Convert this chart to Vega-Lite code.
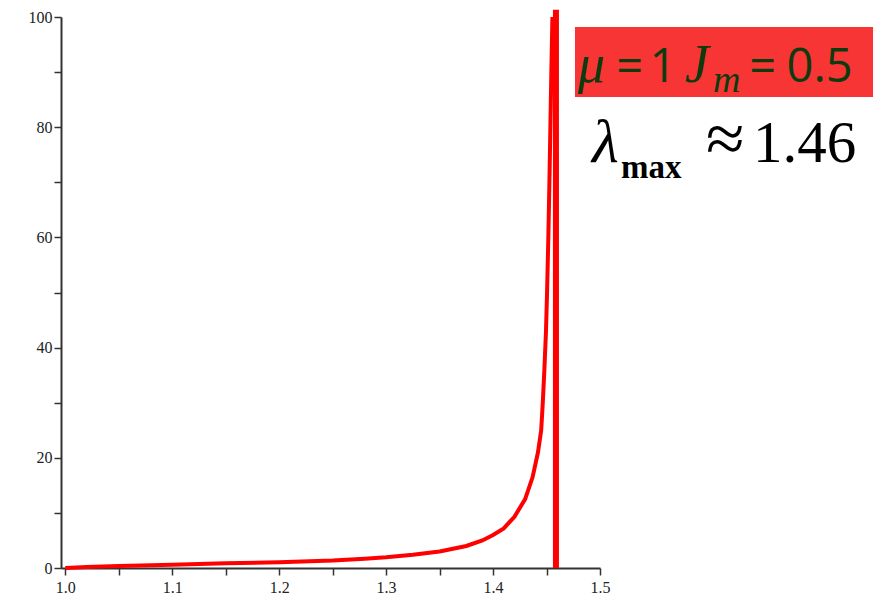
{
  "$schema": "https://vega.github.io/schema/vega-lite/v6.json",
  "autosize": "none",
  "width": 539,
  "height": 551,
  "padding": {"left": 61, "top": 17, "right": 276, "bottom": 33},
  "background": "white",
  "config": {
    "view": {"stroke": null},
    "axis": {
      "grid": false,
      "domainColor": "#333333",
      "domainWidth": 2,
      "tickColor": "#333333",
      "tickWidth": 1.5,
      "tickSize": 7,
      "labelFont": "Liberation Serif",
      "labelFontSize": 16,
      "labelColor": "#222222",
      "labelFlush": false,
      "labelOverlap": false,
      "title": null
    }
  },
  "datasets": {
    "curve": [
      {"stretch": 1.0, "stress": 0},
      {"stretch": 1.02, "stress": 0.2},
      {"stretch": 1.05, "stress": 0.35},
      {"stretch": 1.1, "stress": 0.6},
      {"stretch": 1.15, "stress": 0.85},
      {"stretch": 1.2, "stress": 1.05},
      {"stretch": 1.25, "stress": 1.35},
      {"stretch": 1.28, "stress": 1.7},
      {"stretch": 1.3, "stress": 1.95},
      {"stretch": 1.325, "stress": 2.4},
      {"stretch": 1.35, "stress": 3.0},
      {"stretch": 1.375, "stress": 4.0},
      {"stretch": 1.39, "stress": 5.0},
      {"stretch": 1.4, "stress": 6.0},
      {"stretch": 1.41, "stress": 7.2},
      {"stretch": 1.42, "stress": 9.3},
      {"stretch": 1.43, "stress": 12.5},
      {"stretch": 1.437, "stress": 16.5},
      {"stretch": 1.442, "stress": 21},
      {"stretch": 1.445, "stress": 25},
      {"stretch": 1.4465, "stress": 30},
      {"stretch": 1.448, "stress": 36},
      {"stretch": 1.4495, "stress": 43},
      {"stretch": 1.4505, "stress": 50},
      {"stretch": 1.4517, "stress": 60},
      {"stretch": 1.4527, "stress": 70},
      {"stretch": 1.4536, "stress": 80},
      {"stretch": 1.4545, "stress": 90},
      {"stretch": 1.4555, "stress": 100}
    ],
    "asymptote": [{"stretch": 1.4588, "lo": 0, "hi": 101.3}],
    "box": [{"x1": 1.4766, "x2": 1.7553, "y1": 85.5, "y2": 98.2}]
  },
  "layer": [
    {
      "data": {"name": "box"},
      "mark": {"type": "rect", "color": "#f73535"},
      "encoding": {
        "x": {"field": "x1", "type": "quantitative", "scale": {"domain": [0.996, 1.5], "nice": false, "zero": false},
          "axis": {
            "values": [1.0, 1.05, 1.1, 1.15, 1.2, 1.25, 1.3, 1.35, 1.4, 1.45, 1.5],
            "labelExpr": "round(datum.value*100) % 10 == 0 ? format(datum.value, '.1f') : ''",
            "labelPadding": 4
          }},
        "x2": {"field": "x2"},
        "y": {"field": "y1", "type": "quantitative", "scale": {"domain": [0, 100], "nice": false},
          "axis": {
            "values": [0, 10, 20, 30, 40, 50, 60, 70, 80, 90, 100],
            "labelExpr": "datum.value % 20 == 0 ? datum.label : ''",
            "labelPadding": 2
          }},
        "y2": {"field": "y2"}
      }
    },
    {
      "data": {"name": "curve"},
      "mark": {"type": "line", "color": "#ff0000", "strokeWidth": 4},
      "encoding": {
        "x": {"field": "stretch", "type": "quantitative"},
        "y": {"field": "stress", "type": "quantitative"}
      }
    },
    {
      "data": {"name": "asymptote"},
      "mark": {"type": "rule", "color": "#ff0000", "strokeWidth": 6},
      "encoding": {
        "x": {"field": "stretch", "type": "quantitative"},
        "y": {"field": "lo", "type": "quantitative"},
        "y2": {"field": "hi"}
      }
    },
    {
      "data": {"values": [{"t": "μ", "x": 1.4795, "y": 88.2}, {"t": "J", "x": 1.5795, "y": 88.2}]},
      "mark": {"type": "text", "align": "left", "baseline": "alphabetic", "font": "Liberation Serif", "fontStyle": "italic", "fontSize": 54, "color": "#0d3b0d"},
      "encoding": {"x": {"field": "x", "type": "quantitative"}, "y": {"field": "y", "type": "quantitative"}, "text": {"field": "t"}}
    },
    {
      "data": {"values": [{"t": "m", "x": 1.6057, "y": 86.4}]},
      "mark": {"type": "text", "align": "left", "baseline": "alphabetic", "font": "Liberation Serif", "fontStyle": "italic", "fontSize": 38, "color": "#0d3b0d"},
      "encoding": {"x": {"field": "x", "type": "quantitative"}, "y": {"field": "y", "type": "quantitative"}, "text": {"field": "t"}}
    },
    {
      "data": {"values": [{"t": "=", "x": 1.5153, "y": 88.2}, {"t": "1", "x": 1.5462, "y": 88.2}, {"t": "=", "x": 1.6395, "y": 88.2}, {"t": "0.5", "x": 1.6745, "y": 88.2}]},
      "mark": {"type": "text", "align": "left", "baseline": "alphabetic", "font": "Open Sans", "fontSize": 47, "color": "#0d3b0d"},
      "encoding": {"x": {"field": "x", "type": "quantitative"}, "y": {"field": "y", "type": "quantitative"}, "text": {"field": "t"}}
    },
    {
      "data": {"values": [{"t": "λ", "x": 1.4925, "y": 73.7}]},
      "mark": {"type": "text", "align": "left", "baseline": "alphabetic", "font": "Liberation Serif", "fontStyle": "italic", "fontSize": 62, "color": "#000000"},
      "encoding": {"x": {"field": "x", "type": "quantitative"}, "y": {"field": "y", "type": "quantitative"}, "text": {"field": "t"}}
    },
    {
      "data": {"values": [{"t": "max", "x": 1.5197, "y": 70.8}]},
      "mark": {"type": "text", "align": "left", "baseline": "alphabetic", "font": "Liberation Serif", "fontWeight": "bold", "fontSize": 33, "color": "#000000"},
      "encoding": {"x": {"field": "x", "type": "quantitative"}, "y": {"field": "y", "type": "quantitative"}, "text": {"field": "t"}}
    },
    {
      "data": {"values": [{"t": "≈", "x": 1.5991, "y": 73.7}]},
      "mark": {"type": "text", "align": "left", "baseline": "alphabetic", "font": "Liberation Serif", "fontSize": 70, "color": "#000000"},
      "encoding": {"x": {"field": "x", "type": "quantitative"}, "y": {"field": "y", "type": "quantitative"}, "text": {"field": "t"}}
    },
    {
      "data": {"values": [{"t": "1.46", "x": 1.6431, "y": 73.7}]},
      "mark": {"type": "text", "align": "left", "baseline": "alphabetic", "font": "Liberation Serif", "fontSize": 59, "color": "#000000"},
      "encoding": {"x": {"field": "x", "type": "quantitative"}, "y": {"field": "y", "type": "quantitative"}, "text": {"field": "t"}}
    }
  ]
}
